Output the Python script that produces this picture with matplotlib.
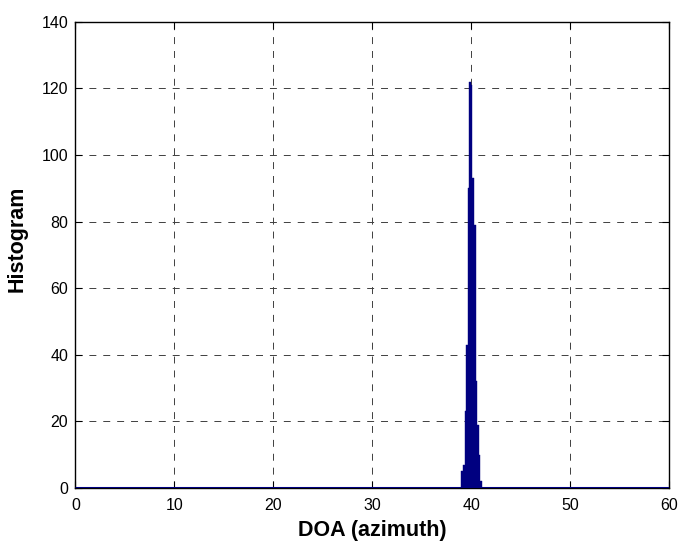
import numpy as np
import matplotlib
matplotlib.use("Agg")
from matplotlib import pyplot as plt

# histogram of DOA estimates (azimuth, degrees)
bin_left = [39.00, 39.16, 39.32, 39.48, 39.64, 39.80, 39.96, 40.12, 40.28, 40.44, 40.60, 40.76, 40.92]
counts = [5, 7, 23, 43, 90, 122, 121, 93, 79, 32, 19, 10, 2]
bin_width = 0.16

x_ticks = [0, 10, 20, 30, 40, 50, 60]
y_ticks = [0, 20, 40, 60, 80, 100, 120, 140]

plt.rcParams['font.family'] = ['Liberation Sans', 'DejaVu Sans']
plt.rcParams['lines.scale_dashes'] = False

fig = plt.figure(figsize=(6.81, 5.41), dpi=100)
ax = fig.add_axes([0.1106, 0.098, 0.8722, 0.862])

# empty bins along the whole range show up as a blue baseline
ax.plot([0, 60], [0, 0], color='#000080', lw=2.2, zorder=3, solid_capstyle='butt')
ax.bar(bin_left, counts, width=bin_width, align='edge', color='#000080',
       edgecolor='#000080', linewidth=0.3, zorder=3)

ax.set_xlim(0, 60)
ax.set_ylim(0, 140)
ax.set_xticks(x_ticks)
ax.set_yticks(y_ticks)
ax.grid(True, color='#404040', linestyle=(0, (5, 5)), linewidth=0.7)
ax.tick_params(direction='in', top=True, right=True, length=5, labelsize=11.5)
ax.tick_params(axis='x', pad=7.5)
ax.tick_params(axis='y', pad=5)
for s in ax.spines.values():
    s.set_linewidth(1.0)

ax.set_xlabel('DOA (azimuth)', fontsize=15.5, fontweight='bold', labelpad=5)
ax.set_ylabel('Histogram', fontsize=15.5, fontweight='bold')
ax.yaxis.set_label_coords(-0.081, 0.535)

fig.savefig('out.png', dpi=100)
